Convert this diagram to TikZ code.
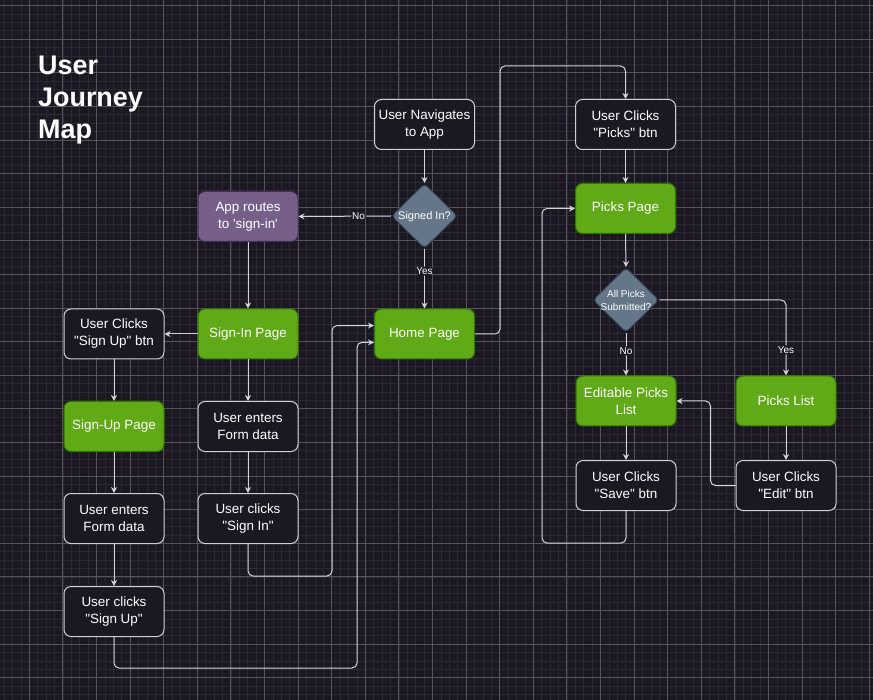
\documentclass[tikz,border=0pt]{standalone}
\usepackage{fontspec}
\setmainfont{Liberation Sans}
\usetikzlibrary{shapes.geometric,arrows.meta,calc}
\definecolor{bg}{HTML}{1B1822}
\definecolor{minorc}{HTML}{2C2934}
\definecolor{majorc}{HTML}{55525C}
\definecolor{edgec}{HTML}{D4D4D8}
\definecolor{greenf}{HTML}{60A917}
\definecolor{greend}{HTML}{2D7600}
\definecolor{purpf}{HTML}{76608A}
\definecolor{purpd}{HTML}{432D57}
\definecolor{grayf}{HTML}{647687}
\definecolor{grayd}{HTML}{314354}
\definecolor{boxd}{HTML}{D0D0D4}
\newcommand\dq{\textquotedbl}
\newcommand\sq{\textquotesingle}
\tikzset{
  base/.style={rectangle, rounded corners=7pt, minimum width=100pt, minimum height=50pt,
    inner sep=0pt, align=center, text=white, line width=1pt,
    font=\fontsize{13.44}{17}\selectfont},
  darkbox/.style={base, fill=bg, draw=boxd},
  greenbox/.style={base, fill=greenf, draw=greend},
  purpbox/.style={base, fill=purpf, draw=purpd},
  dia/.style={diamond, minimum width=66pt, minimum height=65pt, inner sep=0pt,
    fill=grayf, draw=grayd, line width=1pt, rounded corners=4pt},
  diatext/.style={text=white, align=center, inner sep=0pt},
  edge/.style={draw=edgec, line width=1pt, rounded corners=5pt,
    -{Stealth[length=6pt,width=6pt,inset=2pt]}},
  lbl/.style={fill=bg, text=white, inner sep=1pt, font=\fontsize{10}{12}\selectfont},
  minorg/.style={draw=minorc, line width=0.8pt},
  majorg/.style={draw=majorc, line width=0.9pt},
}
\begin{document}
\begin{tikzpicture}[x=1pt,y=-1pt]
\useasboundingbox (0,0) rectangle (873,700);
\fill[bg] (0,0) rectangle (873,700);
\foreach \i in {0,...,103} \draw[minorg] ({4.1+8.4*\i},0) -- ({4.1+8.4*\i},700);
\foreach \i in {0,...,82} \draw[minorg] (0,{5.7+8.4*\i}) -- (873,{5.7+8.4*\i});
\foreach \i in {0,...,25} \draw[majorg] ({29.3+33.6*\i},0) -- ({29.3+33.6*\i},700);
\foreach \i in {0,...,20} \draw[majorg] (0,{5.7+33.6*\i}) -- (873,{5.7+33.6*\i});

% title
\node[anchor=north west, inner sep=0pt, align=left, text=white,
  font=\fontsize{26.9}{32.3}\selectfont\bfseries] (title) at (38,55.5) {User\\Journey\\Map};

% nodes
\node[darkbox] (nav) at (424.5,124.5) {User Navigates\\to App};
\node[dia] (d1) at (424.5,216) {};
\node[diatext, font=\fontsize{11}{13}\selectfont] (d1t) at (424.5,216.5) {Signed In?};
\node[purpbox] (ar) at (248,216.5) {App routes\\to \sq sign-in\sq};
\node[greenbox] (home) at (424.5,334) {Home Page};
\node[greenbox] (sip) at (248,334) {Sign-In Page};
\node[darkbox] (ucsu) at (114,334) {User Clicks\\\dq Sign Up\dq{} btn};
\node[greenbox] (sup) at (114,426.5) {Sign-Up Page};
\node[darkbox] (uef1) at (114,518.5) {User enters\\Form data};
\node[darkbox] (ucsu2) at (114,611.5) {User clicks\\\dq Sign Up\dq};
\node[darkbox] (uef2) at (248,426.5) {User enters\\Form data};
\node[darkbox] (ucsi) at (248,518.5) {User clicks\\\dq Sign In\dq};
\node[darkbox] (ucp) at (625.5,124.5) {User Clicks\\\dq Picks\dq{} btn};
\node[greenbox] (pp) at (625.5,208.5) {Picks Page};
\node[dia] (d2) at (626,300) {};
\node[diatext, font=\fontsize{10}{13}\selectfont] (d2t) at (626,300.5) {All Picks\\Submitted?};
\node[greenbox] (ep) at (626,401) {Editable Picks\\List};
\node[greenbox] (pl) at (786,401) {Picks List};
\node[darkbox] (save) at (626,485.5) {User Clicks\\\dq Save\dq{} btn};
\node[darkbox] (edit) at (786,485.5) {User Clicks\\\dq Edit\dq{} btn};

% edges
\draw[edge] (nav) -- (d1.north);
\draw[edge] (d1.west) -- node[lbl, pos=0.35] {No} (ar.east);
\draw[edge] (d1.south) -- node[lbl, pos=0.37] {Yes} (home.north);
\draw[edge] (ar) -- (sip);
\draw[edge] (sip) -- (ucsu);
\draw[edge] (ucsu) -- (sup);
\draw[edge] (sup) -- (uef1);
\draw[edge] (uef1) -- (ucsu2);
\draw[edge] (ucsu2.south) |- (357,668) |- ($(home.west)+(0,8.4)$);
\draw[edge] (sip) -- (uef2);
\draw[edge] (uef2) -- (ucsi);
\draw[edge] (ucsi.south) |- (332,576) |- ($(home.west)+(0,-8.4)$);
\draw[edge] (home.east) -| (500,66) -| (ucp.north);
\draw[edge] (ucp) -- (pp);
\draw[edge] (pp.south) -- (d2.north);
\draw[edge] (d2.south) -- node[lbl, pos=0.42] {No} (ep.north);
\draw[edge] (d2.east) -| node[lbl, pos=0.83] {Yes} (pl.north);
\draw[edge] (ep) -- (save);
\draw[edge] (save.south) |- (542,543) |- (pp.west);
\draw[edge] (pl) -- (edit);
\draw[edge] (edit.west) -- ++(-25,0) |- (ep.east);
\end{tikzpicture}
\end{document}
